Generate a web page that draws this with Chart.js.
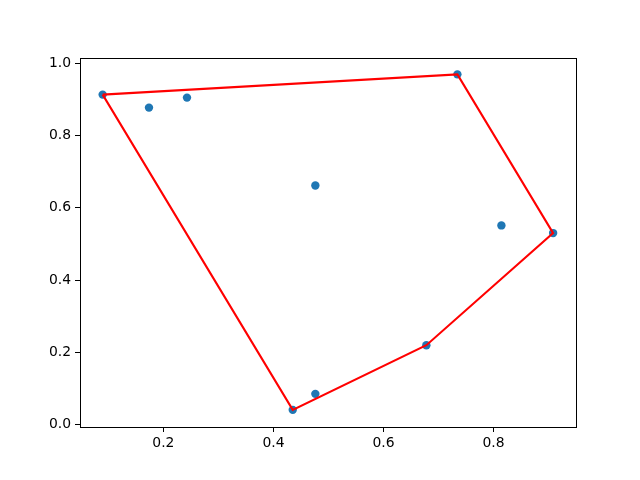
<!DOCTYPE html>
<html>
<head>
<meta charset="utf-8">
<script src="https://cdn.jsdelivr.net/npm/chart.js@4"></script>
<style>
  html, body { margin: 0; padding: 0; background: #fff; }
  canvas { display: block; }
</style>
</head>
<body>
<canvas id="grafica" width="640" height="480"></canvas>
<script>
// ===============================
// DATOS
// ===============================
const puntosX = [0.0896, 0.1738, 0.2429, 0.4762, 0.7344, 0.8144, 0.9084, 0.6780, 0.4762, 0.4351];
const puntosY = [0.9128, 0.8769, 0.9045, 0.6616, 0.9688, 0.5512, 0.5300, 0.2200, 0.0856, 0.0414];
// vertices of the hull, closed
const envolvente = [0, 4, 6, 7, 9, 0];

const ticksX = [0.2, 0.4, 0.6, 0.8];
const ticksY = [0.0, 0.2, 0.4, 0.6, 0.8, 1.0];

const puntos = puntosX.map((x, i) => ({ x: x, y: puntosY[i] }));
const linea = envolvente.map(i => ({ x: puntosX[i], y: puntosY[i] }));

// ===============================
// MARCO (the four spines)
// ===============================
const marco = {
    id: "marco",
    afterDraw(chart) {
        const a = chart.chartArea;
        const ctx = chart.ctx;
        ctx.save();
        ctx.strokeStyle = "#000";
        ctx.lineWidth = 1;
        ctx.strokeRect(Math.round(a.left) + 0.5, Math.round(a.top) + 0.5,
                       Math.round(a.right - a.left), Math.round(a.bottom - a.top));
        ctx.restore();
    }
};

const fuente = { family: "DejaVu Sans", size: 13.9 };

new Chart(document.getElementById("grafica"), {
    type: "scatter",
    data: {
        datasets: [
            {
                data: linea,
                showLine: true,
                borderColor: "#ff0000",
                borderWidth: 2.08,
                pointRadius: 0,
                tension: 0,
                order: 0
            },
            {
                data: puntos,
                backgroundColor: "#1f77b4",
                borderWidth: 0,
                pointRadius: 4.2,
                order: 1
            }
        ]
    },
    options: {
        responsive: false,
        animation: false,
        layout: { padding: { left: 0, top: 58, right: 64, bottom: 0 } },
        plugins: { legend: { display: false }, tooltip: { enabled: false } },
        scales: {
            x: {
                type: "linear",
                min: 0.0484,
                max: 0.950,
                afterBuildTicks: s => { s.ticks = ticksX.map(v => ({ value: v })); },
                afterFit: s => { s.height = 53; },
                ticks: {
                    color: "#000",
                    font: fuente,
                    padding: 3,
                    maxRotation: 0,
                    callback: v => v.toFixed(1)
                },
                grid: { drawOnChartArea: false, drawTicks: true, tickLength: 5, color: "#000" },
                border: { display: false }
            },
            y: {
                type: "linear",
                min: -0.006,
                max: 1.014,
                afterBuildTicks: s => { s.ticks = ticksY.map(v => ({ value: v })); },
                afterFit: s => { s.width = 80; },
                ticks: {
                    color: "#000",
                    font: fuente,
                    padding: 4,
                    callback: v => v.toFixed(1)
                },
                grid: { drawOnChartArea: false, drawTicks: true, tickLength: 5, color: "#000" },
                border: { display: false }
            }
        }
    },
    plugins: [marco]
});
</script>
</body>
</html>
